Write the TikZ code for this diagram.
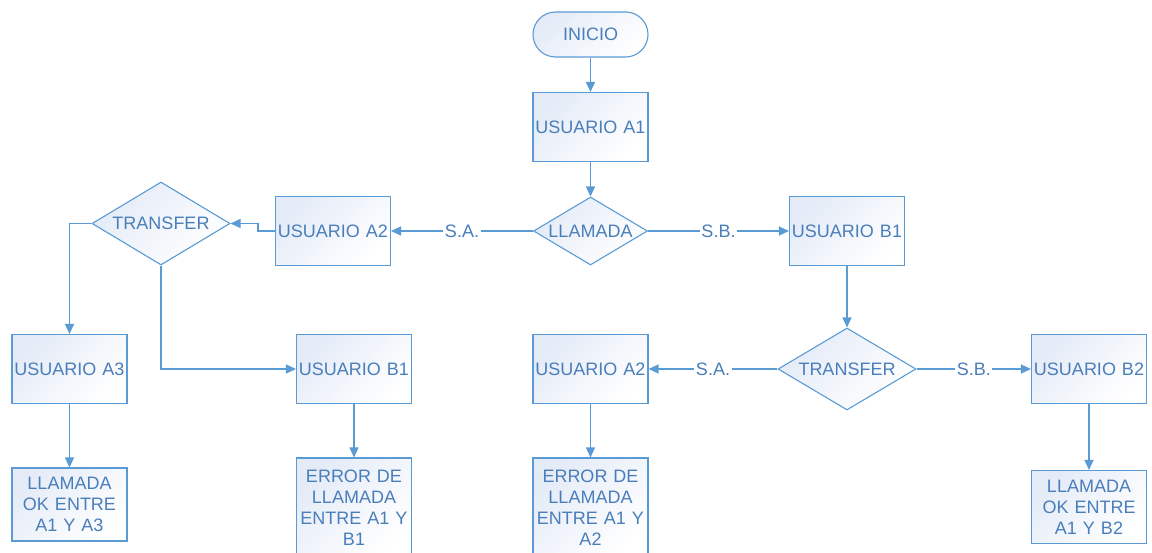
\documentclass[tikz,border=0pt]{standalone}
\usepackage{fontspec}
\setmainfont{Liberation Sans}
\usetikzlibrary{shapes.geometric,arrows.meta}
\definecolor{lineblue}{HTML}{5B9BD5}
\definecolor{textblue}{HTML}{4A7EBB}
\definecolor{fillblue}{HTML}{E4EBF7}
\begin{document}
\begin{tikzpicture}[x=1pt,y=-1pt,
  every node/.style={font=\fontsize{18}{21}\selectfont, text=textblue},
  shade/.style={top color=fillblue, bottom color=white, shading angle=45},
  boxnode/.style={draw=lineblue, line width=1.1pt, shade, minimum width=115pt, minimum height=69pt, inner sep=0pt, align=center, text width=112pt},
  termnode/.style={draw=lineblue, line width=1.1pt, shade, minimum width=115pt, minimum height=45pt, rounded corners=22.5pt, inner sep=0pt},
  decnode/.style={diamond, aspect=1.68, draw=lineblue, line width=1.1pt, shade, inner sep=0pt},
  conn/.style={draw=lineblue, line width=1.3pt, -{Triangle[length=10pt,width=9pt]}},
  lbl/.style={fill=white, inner sep=1.5pt}
]
\useasboundingbox (0,0) rectangle (1152,552);
\clip (0,0) rectangle (1152,552);
\fill[white] (0,0) rectangle (1152,552);

\node[termnode] (ini) at (590.5,34.5) {INICIO};
\node[boxnode] (ua1) at (590.5,127) {USUARIO A1};
\node[decnode, minimum width=114pt, minimum height=68pt] (ll) at (590.5,231) {LLAMADA};
\node[boxnode] (ua2) at (333,231) {USUARIO A2};
\node[boxnode] (ub1) at (847,231) {USUARIO B1};
\node[decnode, minimum width=138pt, minimum height=83pt] (t1) at (161,223.5) {TRANSFER};
\node[decnode, minimum width=138pt, minimum height=82pt] (t2) at (847,369) {TRANSFER};

\node[boxnode] (ua3) at (69.5,369) {USUARIO A3};
\node[boxnode] (ub1b) at (354,369) {USUARIO B1};
\node[boxnode] (ua2b) at (590.5,369) {USUARIO A2};
\node[boxnode] (ub2) at (1089,369) {USUARIO B2};

\node[boxnode, minimum height=73pt] (ok3) at (69.5,504.5) {LLAMADA\\OK ENTRE\\A1 Y A3};
\node[boxnode, minimum height=100pt] (err1) at (354,508) {ERROR DE\\LLAMADA\\ENTRE A1 Y\\B1};
\node[boxnode, minimum height=100pt] (err2) at (590.5,508) {ERROR DE\\LLAMADA\\ENTRE A1 Y\\A2};
\node[boxnode, minimum height=73pt] (ok2) at (1089,507) {LLAMADA\\OK ENTRE\\A1 Y B2};

\draw[conn] (ini) -- (ua1);
\draw[conn] (ua1) -- (ll);
\draw[conn] (ll.west) -- node[lbl] {S.A.} (ua2.east);
\draw[conn] (ll.east) -- node[lbl] {S.B.} (ub1.west);
\draw[conn] (ua2.west) -- ++(-17,0) |- (t1.east);
\draw[conn] (ub1) -- (t2);
\draw[conn] (t1.west) -| (ua3.north);
\draw[conn] (t1.south) |- (ub1b.west);
\draw[conn] (t2.west) -- node[lbl] {S.A.} (ua2b.east);
\draw[conn] (t2.east) -- node[lbl] {S.B.} (ub2.west);
\draw[conn] (ua3) -- (ok3);
\draw[conn] (ub1b) -- (err1);
\draw[conn] (ua2b) -- (err2);
\draw[conn] (ub2) -- (ok2);
\end{tikzpicture}
\end{document}
